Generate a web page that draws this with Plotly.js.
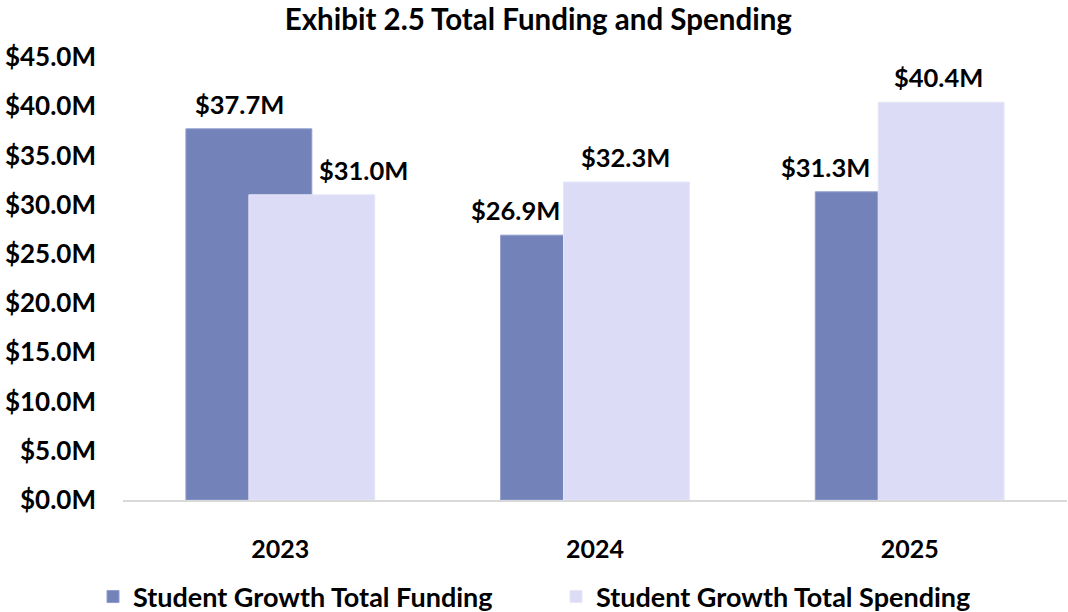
<!DOCTYPE html>
<html>
<head>
<meta charset="utf-8">
<script src="https://cdn.plot.ly/plotly-3.0.1.min.js"></script>
<style>html,body{margin:0;padding:0;background:#fff;}#chart{width:1068px;height:612px;}</style>
</head>
<body>
<div id="chart"></div>
<script>
const years = ["2023", "2024", "2025"];
const funding = [37.7, 26.9, 31.3];
const spending = [31.0, 32.3, 40.4];
const seriesNames = ["Student Growth Total Funding", "Student Growth Total Spending"];
const yTickVals = [0, 5, 10, 15, 20, 25, 30, 35, 40, 45];

const fmt = v => "$" + v.toFixed(1) + "M";
const FONT = "Lato, 'Carlito', Calibri, sans-serif";
const colors = ["#7383b9", "#dcdcf6"];

// label horizontal shifts in pixels (manual label placement in the original)
const fundShift = [-9, -48, -53];
const spendShift = [52, -1, -3];

const traces = [
  {
    type: "bar", name: seriesNames[0], x: [0, 1, 2], y: funding,
    width: 0.4, offset: -0.3,
    marker: {color: colors[0], line: {color: "#8f9ccb", width: 1}},
    hoverinfo: "y"
  },
  {
    type: "bar", name: seriesNames[1], x: [0, 1, 2], y: spending,
    width: 0.4, offset: -0.1,
    marker: {color: colors[1], line: {color: "#e6e6f8", width: 1}},
    hoverinfo: "y"
  }
];

const labelFont = {family: FONT, size: 25.5, color: "#000", weight: "bold"};
const annotations = [];
funding.forEach((v, i) => annotations.push({
  x: i - 0.1, y: v, xref: "x", yref: "y", text: fmt(v), showarrow: false,
  yanchor: "bottom", xshift: fundShift[i], yshift: 8, font: labelFont
}));
spending.forEach((v, i) => annotations.push({
  x: i + 0.1, y: v, xref: "x", yref: "y", text: fmt(v), showarrow: false,
  yanchor: "bottom", xshift: spendShift[i], yshift: 8, font: labelFont
}));

const layout = {
  width: 1068, height: 612,
  margin: {l: 123, r: 1, t: 57, b: 112},
  paper_bgcolor: "#fff", plot_bgcolor: "#fff",
  barmode: "overlay",
  showlegend: true,
  title: {
    text: "Exhibit 2.5 Total Funding and Spending",
    font: {family: FONT, size: 29.5, color: "#000", weight: "bold"},
    xref: "container", x: 0.504, xanchor: "center",
    yref: "container", y: 0.968, yanchor: "middle"
  },
  xaxis: {
    type: "linear", range: [-0.5, 2.5],
    tickvals: [0, 1, 2], ticktext: years,
    showgrid: false, zeroline: false,
    showline: true, linecolor: "#d9d9d9", linewidth: 2,
    ticks: "", ticklabelstandoff: 26,
    tickfont: {family: FONT, size: 25, color: "#000", weight: "bold"},
    fixedrange: true
  },
  yaxis: {
    range: [0, 45],
    tickvals: yTickVals, ticktext: yTickVals.map(fmt),
    showgrid: false, zeroline: false, showline: false,
    ticks: "", ticklabelstandoff: 26,
    tickfont: {family: FONT, size: 26, color: "#000", weight: "bold"},
    fixedrange: true
  },
  legend: {
    orientation: "h",
    xref: "container", x: 93 / 1068, xanchor: "left",
    yref: "container", y: 0.0245, yanchor: "middle",
    entrywidth: 418, entrywidthmode: "pixels",
    bgcolor: "rgba(0,0,0,0)",
    font: {family: FONT, size: 27, color: "#000", weight: "bold"},
    traceorder: "normal"
  },
  annotations: annotations
};

Plotly.newPlot("chart", traces, layout, {displayModeBar: false, staticPlot: true});
</script>
</body>
</html>
